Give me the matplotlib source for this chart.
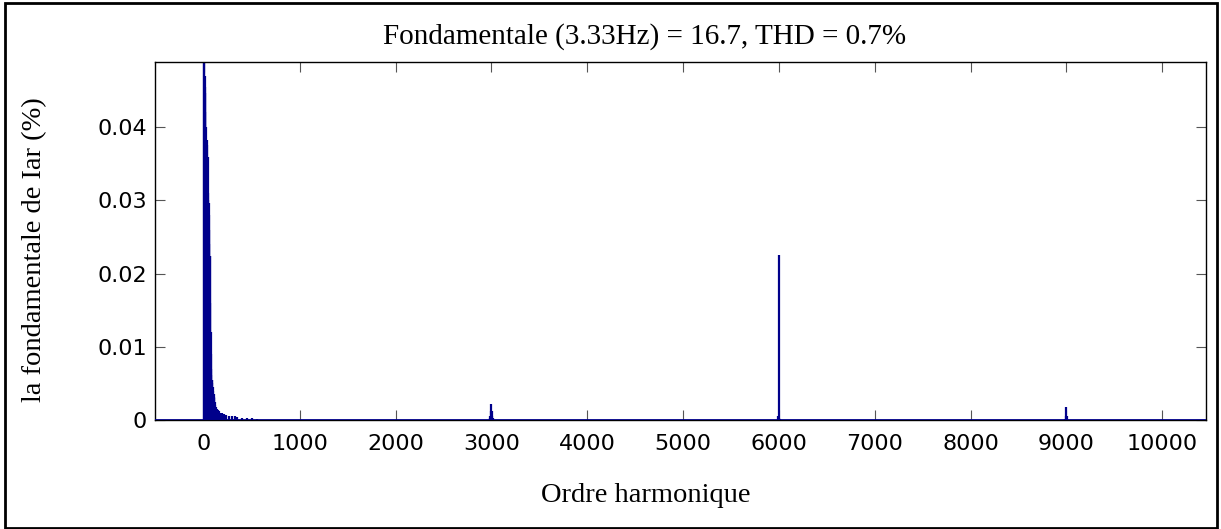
import numpy as np
import matplotlib
matplotlib.use("Agg")
import matplotlib.pyplot as plt
from matplotlib.patches import Rectangle

h_bas = [0, 3, 6, 9, 12, 15, 18, 21, 24, 27, 30, 33, 36, 39, 42, 45, 48, 51,
         54, 57, 60, 63, 66, 69, 72, 75, 78, 81, 84, 87, 90, 95, 100, 105, 110,
         115, 120, 130, 140, 150, 160, 175, 190, 210, 230, 260, 290, 320, 350,
         400, 450, 500, 550]
a_bas = [0.0490, 0.0490, 0.0470, 0.0455, 0.0446, 0.0420, 0.0400, 0.0383,
         0.0370, 0.0383, 0.0375, 0.0359, 0.0340, 0.0310, 0.0359, 0.0300,
         0.0296, 0.0280, 0.0260, 0.0240, 0.0224, 0.0224, 0.0160, 0.0120,
         0.0090, 0.0070, 0.0062, 0.0055, 0.0050, 0.0055, 0.0045, 0.0039,
         0.0036, 0.0032, 0.0030, 0.0025, 0.0020, 0.0018, 0.0015, 0.0014,
         0.0012, 0.0010, 0.0009, 0.0008, 0.0007, 0.0006, 0.0005, 0.0005,
         0.0004, 0.0003, 0.0003, 0.0003, 0.0002]

h_3000 = [2980, 2990, 2995, 3000, 3005, 3010, 3020]
a_3000 = [0.0003, 0.0006, 0.0012, 0.0022, 0.0012, 0.0006, 0.0003]

h_6000 = [5990, 5995, 6000, 6005, 6010]
a_6000 = [0.0002, 0.0005, 0.0225, 0.0003, 0.0002]

h_9000 = [8990, 8995, 9000, 9005, 9010]
a_9000 = [0.0002, 0.0006, 0.0018, 0.0005, 0.0002]

x_ticks = [0, 1000, 2000, 3000, 4000, 5000, 6000, 7000, 8000, 9000, 10000]
y_ticks = [0, 0.01, 0.02, 0.03, 0.04]
y_tick_labels = ['0', '0.01', '0.02', '0.03', '0.04']

bleu = '#00008b'

h = h_bas + h_3000 + h_6000 + h_9000
a = a_bas + a_3000 + a_6000 + a_9000

W, H = 1221, 529
fig = plt.figure(figsize=(W / 100, H / 100), dpi=100)
ax = fig.add_axes([0.127, 0.206, 0.861, 0.677])

ax.vlines(h, 0, a, color=bleu, linewidth=1.6)
ax.axhline(0, color=bleu, linewidth=2.0, zorder=3)

ax.set_xlim(-510, 10460)
ax.set_ylim(0, 0.0489)
ax.set_xticks(x_ticks)
ax.set_xticklabels([str(t) for t in x_ticks])
ax.set_yticks(y_ticks)
ax.set_yticklabels(y_tick_labels)
ax.tick_params(direction='in', top=True, right=True, length=7, width=0.8,
               color='#555555', labelsize=16)
ax.tick_params(axis='x', pad=10)
ax.tick_params(axis='y', pad=6)
for s in ax.spines.values():
    s.set_linewidth(1.0)

serif = 'Liberation Serif'
fig.text(645 / W, 1 - 37 / H, 'Fondamentale (3.33Hz) = 16.7, THD = 0.7%',
         family=serif, fontsize=21, ha='center', va='center')
fig.text(646 / W, 1 - 495 / H, 'Ordre harmonique', family=serif,
         fontsize=20.5, ha='center', va='center')
fig.text(35 / W, 1 - 250 / H, 'la fondamentale de Iar (%)', family=serif,
         fontsize=20.5, ha='center', va='center', rotation=90)

# cadre noir autour de la figure
fig.patches.append(Rectangle((0.004, 0.002), 0.993, 0.992,
                             transform=fig.transFigure, fill=False,
                             edgecolor='black', linewidth=2.0))

fig.savefig('out.png', dpi=100)
